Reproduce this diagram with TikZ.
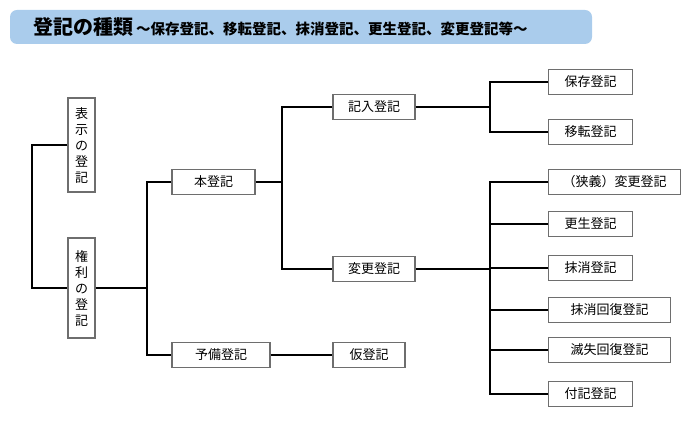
\documentclass[tikz,border=0pt]{standalone}
\usepackage{fontspec}
\newfontfamily\cjk{Noto Sans CJK JP}
\definecolor{bannercolor}{RGB}{170,204,236}
\definecolor{boxcolor}{RGB}{110,110,110}
\begin{document}
\begin{tikzpicture}[yscale=-1,x=1pt,y=1pt,font=\cjk\fontsize{13}{16}\selectfont
,kbox/.style={draw=boxcolor,line width=1.3pt,fill=white,inner sep=0pt,minimum height=25pt}
,vbox/.style={draw=boxcolor,line width=1.3pt,fill=white,inner sep=0pt,minimum width=27pt,align=center}
,kline/.style={black,line width=2pt}
]
\useasboundingbox (0,0) rectangle (700,427);
\fill[bannercolor,rounded corners=7pt] (10,10) rectangle (592,44);
\node[anchor=west,inner sep=0pt] (title) at (33,27){{\fontsize{20}{24}\selectfont\bfseries 登記の種類}\ {\fontsize{14.5}{17}\selectfont\bfseries 〜保存登記、移転登記、抹消登記、更生登記、変更登記等〜}};
% left column
\node[vbox,minimum height=94pt] (hyoji) at (81.5,145){表\\示\\の\\登\\記};
\node[vbox,minimum height=100pt] (kenri) at (81.5,288){権\\利\\の\\登\\記};
\node[kbox,minimum width=83pt] (hon) at (213.5,182){本登記};
\node[kbox,minimum width=98pt] (yobi) at (221,355){予備登記};
\node[kbox,minimum width=72pt] (kari) at (369,355){仮登記};
\node[kbox,minimum width=82pt] (kinyu) at (374,107){記入登記};
\node[kbox,minimum width=82pt] (henko) at (374,269){変更登記};
% right column
\node[kbox,minimum width=84pt,anchor=west] (hozon) at (548,82){保存登記};
\node[kbox,minimum width=84pt,anchor=west] (iten) at (548,132){移転登記};
\node[kbox,minimum width=132pt,anchor=west] (kyogi) at (548,182){（狭義）変更登記};
\node[kbox,minimum width=84pt,anchor=west] (kosei) at (548,224){更生登記};
\node[kbox,minimum width=84pt,anchor=west] (massho) at (548,268){抹消登記};
\node[kbox,minimum width=122pt,anchor=west] (masshok) at (548,310){抹消回復登記};
\node[kbox,minimum width=122pt,anchor=west] (messhi) at (548,350){滅失回復登記};
\node[kbox,minimum width=84pt,anchor=west] (fuki) at (548,394){付記登記};
% connectors
\draw[kline] (hyoji.west) -- ++(-35,0) |- (kenri.west);
\draw[kline] (kenri.east) -- (147,288);
\draw[kline] (hon.west) -| (147,288) |- (yobi.west);
\draw[kline] (yobi.east) -- (kari.west);
\draw[kline] (hon.east) -- (282,182);
\draw[kline] (kinyu.west) -| (282,182) |- (henko.west);
\draw[kline] (kinyu.east) -- (490,107);
\draw[kline] (hozon.west) -| (490,107) |- (iten.west);
\draw[kline] (henko.east) -- (490,269);
\draw[kline] (kyogi.west) -| (490,269) |- (fuki.west);
\foreach \n in {kosei,massho,masshok,messhi}
  \draw[kline] (490,0 |- \n.west) -- (\n.west);
\end{tikzpicture}
\end{document}
